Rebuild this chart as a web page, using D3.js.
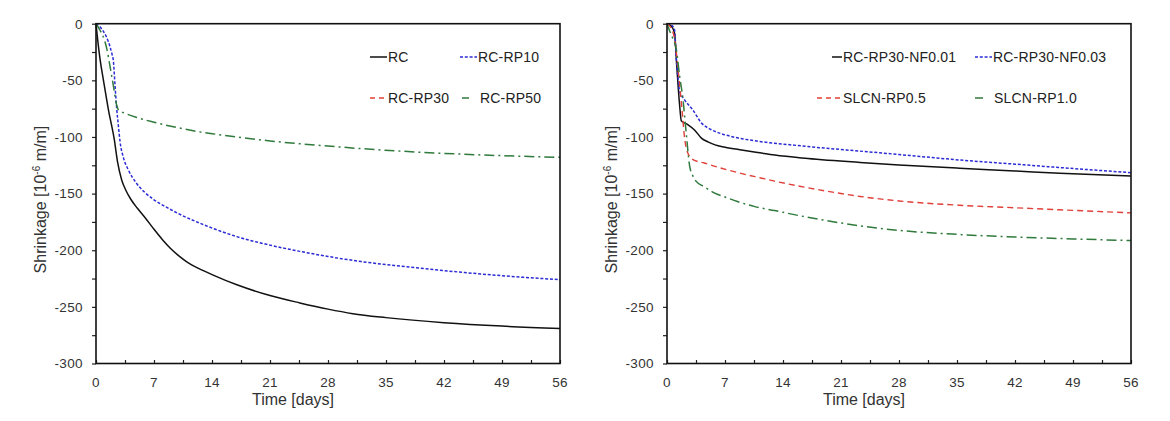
<!DOCTYPE html>
<html><head><meta charset="utf-8">
<script src="https://cdn.jsdelivr.net/npm/d3@7"></script>
<style>
body{margin:0;background:#fff;}
svg{display:block;font-family:"Liberation Sans",Arial,sans-serif;}
</style></head>
<body><svg id="c" width="1170" height="421"></svg>
<script>
// ---- data (time in days, shrinkage in 10^-6 m/m) ----
const xTicks = [0,7,14,21,28,35,42,49,56];
const yTicks = [0,-50,-100,-150,-200,-250,-300];

// Left panel
const leftNames = ["RC","RC-RP10","RC-RP30","RC-RP50"];
const RC_t   = [0,0.2,0.5,0.9,1.5,2.2,2.6,3.1,3.6,4.2,5,6,7,8,9,10,11,12.5,14,17,21,24.6,28,31,35,42,49,56];
const RC_v   = [0,-14,-32,-50,-76,-102,-122,-138,-147,-155,-163,-172,-181.5,-190.5,-198.5,-205,-210.5,-216.5,-221.5,-230.5,-240,-246.5,-252,-256,-259.5,-264,-267,-269];
const RP10_t = [0,0.5,1,1.5,1.9,2.1,2.3,2.5,2.7,2.9,3.3,3.9,4.8,5.9,7,8.5,9.9,12.5,14.4,17,21,24.6,28,32,36.7,42,49,56];
const RP10_v = [0,-3,-8,-16,-26,-33,-55,-75,-90,-104,-118,-129,-140,-149,-155.5,-162,-167.5,-176,-181.5,-188,-195.5,-201,-205.5,-210,-214,-218,-222.5,-226];
const RP30_t = [];   // not drawn in the reference
const RP30_v = [];
const RP50_t = [0,0.5,1,1.3,1.7,2.1,2.5,2.7,3.5,5,7,10,12.5,14.4,17,21,24.6,28,32,36.7,42,49,56];
const RP50_v = [0,-6,-14,-22,-38,-55,-72,-76,-79,-83,-87,-92,-95.5,-97.5,-100,-103.5,-106,-108,-110.3,-112.5,-114.5,-116.5,-118];

// Right panel
const rightNames = ["RC-RP30-NF0.01","RC-RP30-NF0.03","SLCN-RP0.5","SLCN-RP1.0"];
const NF01_t = [0,0.5,0.9,1.2,1.5,1.74,2.5,3.35,4.15,5,5.8,7,9,11.2,13,17,23.3,28,35.3,42,47.4,56];
const NF01_v = [0,-2,-8,-40,-70,-86,-89,-94,-101,-104.5,-107,-109,-111.5,-114,-116,-119,-122.5,-124.7,-127.6,-130,-132,-134.5];
const NF03_t = [0,0.5,0.9,1.13,1.3,1.53,2.1,3.1,4.2,5.2,6.5,8,11.2,15,19,23.3,28,35.3,42,47.4,56];
const NF03_v = [0,-1,-5,-32,-45,-60,-67,-76,-88,-93,-97,-100,-104,-107,-109.8,-112.5,-115.5,-120.3,-124,-127,-131.5];
const SL05_t = [0,0.5,0.93,1.4,1.8,2.14,2.5,3.14,4.5,5.8,7.5,9.4,11.2,13,16,19,23.3,28,35.3,42,47.4,56];
const SL05_v = [0,-4,-14,-45,-75,-102,-114,-120,-123,-126,-129.5,-133,-136,-139,-143.5,-147.5,-152.5,-156.5,-160.3,-162.5,-164.3,-167];
const SL10_t = [0,0.3,0.7,1.13,1.5,1.93,2.3,2.74,3.1,3.5,4.5,5.76,7,8.5,10.6,13,16,19,23.3,28,35,42,49,56];
const SL10_v = [0,-6,-13,-23,-45,-67,-95,-126,-134,-139,-144,-149.6,-153,-157,-161.5,-165,-169.5,-173.5,-178.5,-182.5,-186,-188.3,-190,-191.5];

// ---- styles ----
const styles = [
  {color:"#111111", dash:null, w:1.5},
  {color:"#2b2bd6", dash:"3,1.8", w:1.5},
  {color:"#e0403a", dash:"6,4", w:1.4},
  {color:"#2f7a3c", dash:"10,4,2,4", w:1.5}
];

const svg = d3.select("#c");
const plotTop = 23.7, plotBottom = 363.5;

function zip(t,v){ return t.map((d,i)=>({t:d,v:v[i]})); }

function panel(x0, x1, series, names, legend, ylabX, xlabCx){
  const x = d3.scaleLinear().domain([0,56]).range([x0,x1]);
  const y = d3.scaleLinear().domain([0,-300]).range([plotTop,plotBottom]);
  const g = svg.append("g");

  // minor/major ticks
  const xt = d3.range(0,56.01,3.5);
  g.append("g").attr("transform",`translate(0,${plotBottom})`)
    .call(d3.axisBottom(x).tickValues(xt).tickSizeInner(-3.5).tickSizeOuter(0).tickFormat(""))
    .call(a=>a.select(".domain").remove())
    .call(a=>a.selectAll("line").attr("stroke","#222").attr("stroke-width",1.2));
  const yt = d3.range(0,-300.01,-25);
  g.append("g").attr("transform",`translate(${x0},0)`)
    .call(d3.axisLeft(y).tickValues(yt).tickSizeInner(4).tickSizeOuter(0).tickFormat(""))
    .call(a=>a.select(".domain").remove())
    .call(a=>a.selectAll("line").attr("stroke","#222").attr("stroke-width",1.2));

  // tick labels
  g.selectAll(".xl").data(xTicks).join("text")
    .attr("x",d=>x(d)).attr("y",386.5).attr("text-anchor","middle")
    .attr("font-size",13.5).attr("fill","#333").attr("letter-spacing",0.3).text(d=>d);
  g.selectAll(".yl").data(yTicks).join("text")
    .attr("x",x0-13).attr("y",d=>y(d)+4.8).attr("text-anchor","end")
    .attr("font-size",13.5).attr("fill","#333").attr("letter-spacing",0.4).text(d=>d);

  // lines
  const line = d3.line().x(d=>x(d.t)).y(d=>y(d.v)).curve(d3.curveMonotoneX);
  series.forEach((s,i)=>{
    if(!s.length) return;
    const st = styles[i];
    g.append("path").datum(s).attr("d",line).attr("fill","none")
      .attr("stroke",st.color).attr("stroke-width",st.w)
      .attr("stroke-dasharray",st.dash).attr("stroke-linejoin","round");
  });

  // frame
  g.append("rect").attr("x",x0).attr("y",plotTop).attr("width",x1-x0).attr("height",plotBottom-plotTop)
    .attr("fill","none").attr("stroke","#111").attr("stroke-width",1.6);

  // legend
  legend.forEach((L,i)=>{
    const st = styles[i];
    g.append("line").attr("x1",L.l1).attr("x2",L.l2).attr("y1",L.y).attr("y2",L.y)
      .attr("stroke",st.color).attr("stroke-width",1.5).attr("stroke-dasharray",L.dash===undefined?st.dash:L.dash);
    g.append("text").attr("x",L.tx).attr("y",L.y+5).attr("font-size",14).attr("letter-spacing",0.2)
      .attr("fill","#222").text(names[i]);
  });

  // axis titles
  g.append("text").attr("x",xlabCx).attr("y",404.5).attr("text-anchor","middle")
    .attr("font-size",16).attr("fill","#333").text("Time [days]");
  const yl = g.append("text").attr("transform",`translate(${ylabX},${(plotTop+plotBottom)/2+6}) rotate(-90)`)
    .attr("text-anchor","middle").attr("font-size",16).attr("fill","#333");
  yl.append("tspan").text("Shrinkage [10");
  yl.append("tspan").attr("font-size",10).attr("dy",-6).text("-6");
  yl.append("tspan").attr("dy",6).text(" m/m]");
}

panel(96, 560,
  [zip(RC_t,RC_v), zip(RP10_t,RP10_v), zip(RP30_t,RP30_v), zip(RP50_t,RP50_v)],
  leftNames,
  [{l1:370,l2:387,tx:388,y:57},
   {l1:460,l2:477,tx:478,y:57},
   {l1:370,l2:387,tx:388,y:98, dash:"5,4"},
   {l1:462,l2:469,tx:480,y:98, dash:null}],
  46, 293);

panel(667, 1131,
  [zip(NF01_t,NF01_v), zip(NF03_t,NF03_v), zip(SL05_t,SL05_v), zip(SL10_t,SL10_v)],
  rightNames,
  [{l1:832,l2:842,tx:843,y:57},
   {l1:975,l2:992,tx:993,y:57},
   {l1:817,l2:842,tx:843,y:98, dash:"5,4"},
   {l1:975,l2:983,tx:994,y:98, dash:null}],
  617, 864);
</script></body></html>
